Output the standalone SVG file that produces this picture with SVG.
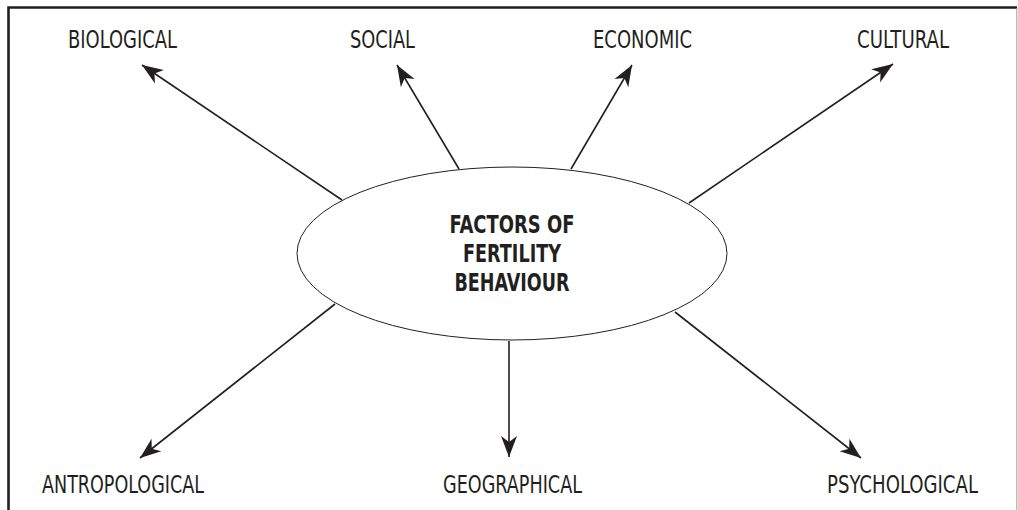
<svg xmlns="http://www.w3.org/2000/svg" width="1018" height="510" viewBox="0 0 1018 510">
<style>
.lbl{font-family:"Liberation Sans Narrow","DejaVu Sans Condensed","Liberation Sans",sans-serif;font-size:24.5px;fill:#231f20;}
.ttl{font-family:"Liberation Sans Narrow","DejaVu Sans Condensed","Liberation Sans",sans-serif;font-size:24px;font-weight:bold;fill:#231f20;text-anchor:middle;}
.con{stroke:#231f20;stroke-width:1.6;fill:none;marker-end:url(#ah);}
</style>
<defs>
<marker id="ah" markerUnits="userSpaceOnUse" viewBox="-22 -9 23 18" refX="0" refY="0" markerWidth="23" markerHeight="18" orient="auto">
<path d="M0,0 L-21,-8 L-15,0 L-21,8 Z" fill="#231f20"/>
</marker>
</defs>
<rect width="1018" height="510" fill="#fff"/>
<g id="frame">
<path d="M8.5,510 L8.5,7.5 L1017,7.5" fill="none" stroke="#231f20" stroke-width="2.6"/>
<line x1="1016.8" y1="8" x2="1016.8" y2="510" stroke="#9a9a9a" stroke-width="1"/>
</g>
<g id="connectors">
<line class="con" x1="342" y1="200" x2="142" y2="65"/>
<line class="con" x1="459" y1="169" x2="397" y2="65"/>
<line class="con" x1="571" y1="169" x2="632" y2="65"/>
<line class="con" x1="689" y1="203" x2="893" y2="64"/>
<line class="con" x1="335" y1="304" x2="140" y2="458"/>
<line class="con" x1="509" y1="341" x2="509" y2="457"/>
<line class="con" x1="675" y1="312" x2="861" y2="458"/>
</g>
<g id="center">
<ellipse cx="512" cy="253.5" rx="215" ry="86.5" fill="#fff" stroke="#231f20" stroke-width="1"/>
<text class="ttl" x="512" y="233" textLength="125" lengthAdjust="spacingAndGlyphs">FACTORS OF</text>
<text class="ttl" x="512" y="262" textLength="98" lengthAdjust="spacingAndGlyphs">FERTILITY</text>
<text class="ttl" x="512" y="291" textLength="115" lengthAdjust="spacingAndGlyphs">BEHAVIOUR</text>
</g>
<g id="biological"><text class="lbl" x="68" y="48" textLength="109" lengthAdjust="spacingAndGlyphs">BIOLOGICAL</text></g>
<g id="social"><text class="lbl" x="350" y="48" textLength="65" lengthAdjust="spacingAndGlyphs">SOCIAL</text></g>
<g id="economic"><text class="lbl" x="593" y="48" textLength="99" lengthAdjust="spacingAndGlyphs">ECONOMIC</text></g>
<g id="cultural"><text class="lbl" x="857" y="48" textLength="92" lengthAdjust="spacingAndGlyphs">CULTURAL</text></g>
<g id="antropological"><text class="lbl" x="42" y="493" textLength="162" lengthAdjust="spacingAndGlyphs">ANTROPOLOGICAL</text></g>
<g id="geographical"><text class="lbl" x="443" y="493" textLength="139" lengthAdjust="spacingAndGlyphs">GEOGRAPHICAL</text></g>
<g id="psychological"><text class="lbl" x="827" y="493" textLength="151" lengthAdjust="spacingAndGlyphs">PSYCHOLOGICAL</text></g>
</svg>
